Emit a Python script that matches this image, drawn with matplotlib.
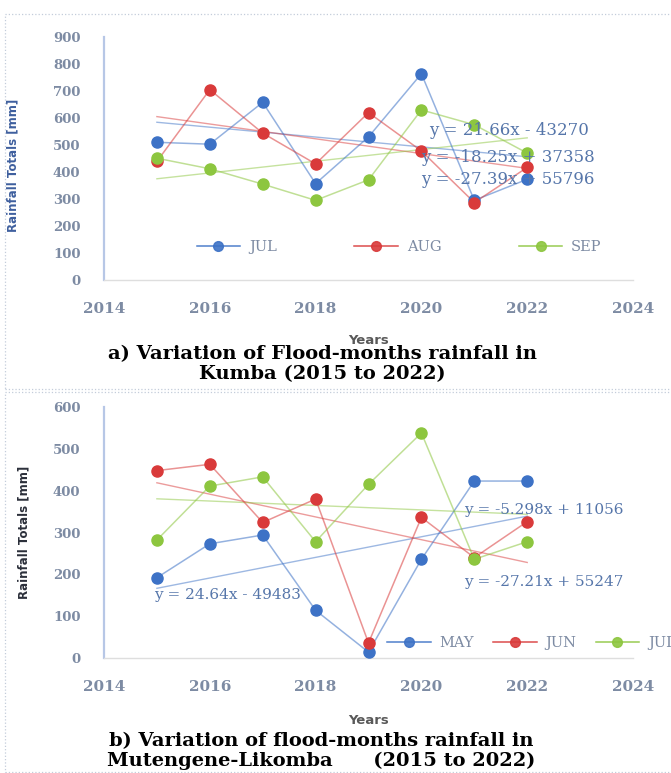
import matplotlib
matplotlib.use("Agg")
import matplotlib.pyplot as plt
from matplotlib.lines import Line2D
from matplotlib.patches import Rectangle
import numpy as np

# Flood-month rainfall totals (mm)
years = [2015, 2016, 2017, 2018, 2019, 2020, 2021, 2022]

kumba_jul = [510, 503, 658, 357, 530, 764, 295, 373]
kumba_aug = [439, 705, 544, 430, 620, 478, 287, 417]
kumba_sep = [451, 412, 355, 295, 371, 630, 575, 470]

mutengene_may = [192, 273, 294, 114, 14, 236, 423, 423]
mutengene_jun = [448, 463, 324, 380, 36, 336, 240, 326]
mutengene_jul = [282, 411, 433, 278, 415, 538, 236, 278]

# linear trend coefficients (slope, intercept) as printed on the chart
kumba_trends = {"JUL": (-18.25, 37358), "AUG": (-27.39, 55796), "SEP": (21.66, -43270)}
mutengene_trends = {"MAY": (24.64, -49483), "JUN": (-27.21, 55247), "JUL": (-5.298, 11056)}

BLUE = "#3d72c6"
RED = "#d93a3a"
GREEN = "#8dc63f"
TICK_COL = "#7d8ba3"
EQ_COL = "#5676aa"
SERIF = "DejaVu Serif"

W, H = 671, 773
fig = plt.figure(figsize=(W / 100, H / 100), dpi=100)


def px_axes(x0, y0, x1, y1):
    return fig.add_axes([x0 / W, 1 - y1 / H, (x1 - x0) / W, (y1 - y0) / H])


def eq_text(slope, intercept):
    sign = "+" if intercept >= 0 else "-"
    return f"y = {slope:g}x {sign} {abs(intercept)}"


def style_axes(ax, ymax, step):
    ax.set_xlim(2014, 2024)
    ax.set_ylim(0, ymax)
    ax.set_xticks(range(2014, 2025, 2))
    ax.set_yticks(range(0, ymax + 1, step))
    for s in ("top", "right"):
        ax.spines[s].set_visible(False)
    ax.spines["left"].set_color("#b7c7e6")
    ax.spines["left"].set_linewidth(1.6)
    ax.spines["bottom"].set_color("#dedede")
    ax.spines["bottom"].set_linewidth(1.0)
    ax.tick_params(length=0, labelcolor=TICK_COL)
    ax.tick_params(axis="y", pad=17, labelsize=9.5)
    ax.tick_params(axis="x", pad=16, labelsize=11)
    for lab in ax.get_xticklabels() + ax.get_yticklabels():
        lab.set_fontfamily(SERIF)
        lab.set_fontweight("bold")
    ax.patch.set_alpha(0)


def draw_series(ax, series, trends):
    for name, vals, col in series:
        ax.plot(years, vals, color=col, lw=1.1, alpha=0.55, zorder=2)
        ax.plot(years, vals, "o", color=col, ms=8, zorder=3)
        m, b = trends[name]
        xs = np.array([years[0], years[-1]])
        ax.plot(xs, m * xs + b, color=col, lw=1.0, alpha=0.5, zorder=1)


def legend(ax, series, anchor, loc, colspacing):
    handles = [Line2D([], [], color=c, lw=1.1, marker="o", ms=7,
                      markerfacecolor=c, markeredgecolor=c) for _, _, c in series]
    leg = ax.legend(handles, [n for n, _, _ in series], ncol=3, frameon=False,
                    loc=loc, bbox_to_anchor=anchor, handlelength=3.0,
                    handletextpad=0.6, columnspacing=colspacing,
                    borderpad=0, borderaxespad=0,
                    prop={"family": SERIF, "size": 10.5})
    for t in leg.get_texts():
        t.set_color(TICK_COL)
    for h in leg.legend_handles:
        h.set_alpha(0.9)
    return leg


def equation(ax, x, y, coef, size=11):
    ax.text(x, y, eq_text(*coef), fontsize=size, color=EQ_COL,
            family=SERIF, va="center", ha="left", zorder=4)


# a) Kumba
ax1 = px_axes(104, 37, 633, 280)
style_axes(ax1, 900, 100)
kumba = [("JUL", kumba_jul, BLUE), ("AUG", kumba_aug, RED), ("SEP", kumba_sep, GREEN)]
draw_series(ax1, kumba, kumba_trends)
legend(ax1, kumba, (0.175, 0.135), "center left", 5.3)
ax1.set_ylabel("Rainfall Totals [mm]", fontsize=8.5, fontweight="bold", color="#3e5f9e")
ax1.yaxis.set_label_coords(-0.16, 0.47)
equation(ax1, 2020.15, 555, kumba_trends["SEP"], 12)
equation(ax1, 2020.0, 455, kumba_trends["JUL"], 12)
equation(ax1, 2020.0, 374, kumba_trends["AUG"], 12)

# b) Mutengene-Likomba
ax2 = px_axes(104, 407, 633, 658)
style_axes(ax2, 600, 100)
muten = [("MAY", mutengene_may, BLUE), ("JUN", mutengene_jun, RED), ("JUL", mutengene_jul, GREEN)]
draw_series(ax2, muten, mutengene_trends)
legend(ax2, muten, (0.535, 0.06), "center left", 1.3)
ax2.set_ylabel("Rainfall Totals [mm]", fontsize=8.5, fontweight="bold", color="#2b2f3a")
ax2.yaxis.set_label_coords(-0.14, 0.5)
equation(ax2, 2020.8, 354, mutengene_trends["JUL"])
equation(ax2, 2020.8, 182, mutengene_trends["JUN"])
equation(ax2, 2014.95, 151, mutengene_trends["MAY"])

# axis titles and captions
for yp in (341, 721):
    fig.text(369 / W, 1 - yp / H, "Years", ha="center", va="center", fontsize=9.5,
             fontweight="bold", color="#595959")
captions = [(322, 354, "a) Variation of Flood-months rainfall in"),
            (322, 374, "Kumba (2015 to 2022)"),
            (321, 741, "b) Variation of flood-months rainfall in"),
            (321, 761, "Mutengene-Likomba      (2015 to 2022)")]
for xp, yp, txt in captions:
    fig.text(xp / W, 1 - yp / H, txt, ha="center", va="center", fontsize=14,
             fontweight="bold", family=SERIF)

# dotted panel frames
for y0, y1 in [(14, 389), (392, 772)]:
    fig.add_artist(Rectangle((5 / W, 1 - y1 / H), (W + 10) / W, (y1 - y0) / H,
                             transform=fig.transFigure, fill=False, ls=":",
                             lw=0.9, edgecolor="#c3ccda"))

fig.savefig("out.png", dpi=100)
